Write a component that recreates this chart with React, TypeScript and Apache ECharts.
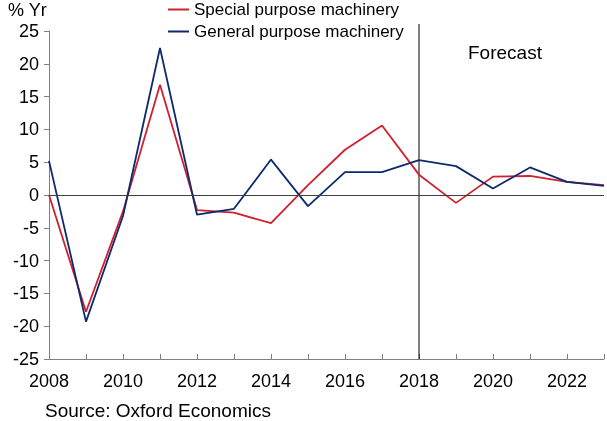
import React, { useEffect, useRef } from "react";
import * as echarts from "echarts";

const years = [2008, 2009, 2010, 2011, 2012, 2013, 2014, 2015, 2016, 2017, 2018, 2019, 2020, 2021, 2022, 2023];
const specialPurpose = [0.0, -17.8, -2.5, 16.8, -2.3, -2.7, -4.3, 1.5, 6.9, 10.6, 3.1, -1.2, 2.8, 2.9, 2.0, 1.5];
const generalPurpose = [5.2, -19.3, -3.2, 22.4, -3.0, -2.1, 5.4, -1.7, 3.5, 3.5, 5.3, 4.4, 1.0, 4.2, 2.0, 1.4];
const forecastYear = 2018;
const seriesNames = ["Special purpose machinery", "General purpose machinery"];

const FONT = "'Liberation Sans', Arial, sans-serif";

export default function App() {
  const ref = useRef<HTMLDivElement>(null);
  useEffect(() => {
    if (!ref.current) return;
    const chart = echarts.init(ref.current, null, { renderer: "svg" });
    const axisColor = "#7f7f7f";
    const texts = [
      { type: "text", left: 8, top: 1, style: { text: "% Yr", fontSize: 18, fill: "#000", fontFamily: FONT } },
      { type: "text", left: 468, top: 43, style: { text: "Forecast", fontSize: 19, fill: "#000", fontFamily: FONT } },
      { type: "text", left: 45, top: 401, style: { text: "Source: Oxford Economics", fontSize: 19, fill: "#000", fontFamily: FONT } },
    ];
    chart.setOption({
      animation: false,
      textStyle: { fontFamily: FONT },
      grid: { left: 49, right: 2, top: 31, bottom: 62, containLabel: false },
      legend: {
        orient: "vertical",
        left: 163,
        top: 1,
        padding: [0, 5],
        itemWidth: 21,
        itemHeight: 2,
        itemGap: 5,
        icon: "rect",
        textStyle: { fontSize: 17, color: "#000", fontFamily: FONT, lineHeight: 17 },
        data: seriesNames,
      },
      xAxis: {
        type: "value",
        min: 2008,
        max: 2023,
        interval: 1,
        axisLine: { onZero: false, lineStyle: { color: axisColor, width: 1 } },
        axisTick: { inside: true, length: 5, lineStyle: { color: axisColor } },
        splitLine: { show: false },
        axisLabel: {
          margin: 13,
          fontSize: 18,
          color: "#000",
          fontFamily: FONT,
          formatter: (v: number) => (v % 2 === 0 && v <= 2022 ? String(v) : ""),
        },
      },
      yAxis: {
        type: "value",
        min: -25,
        max: 25,
        interval: 5,
        axisLine: { show: true, lineStyle: { color: axisColor, width: 1 } },
        axisTick: { show: true, inside: false, length: 5, lineStyle: { color: axisColor } },
        splitLine: { show: false },
        axisLabel: { margin: 10, fontSize: 18, color: "#000", fontFamily: FONT },
      },
      graphic: texts,
      series: [
        {
          name: seriesNames[0],
          type: "line",
          data: years.map((y, i) => [y, specialPurpose[i]]),
          symbol: "none",
          lineStyle: { color: "#d0202e", width: 1.8 },
          itemStyle: { color: "#d0202e" },
          z: 3,
          markLine: {
            silent: true,
            symbol: "none",
            label: { show: false },
            lineStyle: { color: "#404040", width: 1, type: "solid" },
            data: [{ yAxis: 0 }],
          },
        },
        {
          name: seriesNames[1],
          type: "line",
          data: years.map((y, i) => [y, generalPurpose[i]]),
          symbol: "none",
          lineStyle: { color: "#0d2a6e", width: 1.8 },
          itemStyle: { color: "#0d2a6e" },
          z: 4,
        },
      ],
    });
    const top = chart.convertToPixel({ xAxisIndex: 0, yAxisIndex: 0 }, [forecastYear, 25]);
    const bottom = chart.convertToPixel({ xAxisIndex: 0, yAxisIndex: 0 }, [forecastYear, -25]);
    if (top && bottom) {
      chart.setOption({
        graphic: [
          ...texts,
          {
            type: "line",
            shape: { x1: top[0], y1: top[1] - 7, x2: bottom[0], y2: bottom[1] },
            style: { stroke: "#000", lineWidth: 1 },
            z: 1,
          },
        ],
      });
    }
    return () => chart.dispose();
  }, []);
  return <div ref={ref} style={{ position: "fixed", left: 0, top: 0, width: 607, height: 421 }} />;
}
